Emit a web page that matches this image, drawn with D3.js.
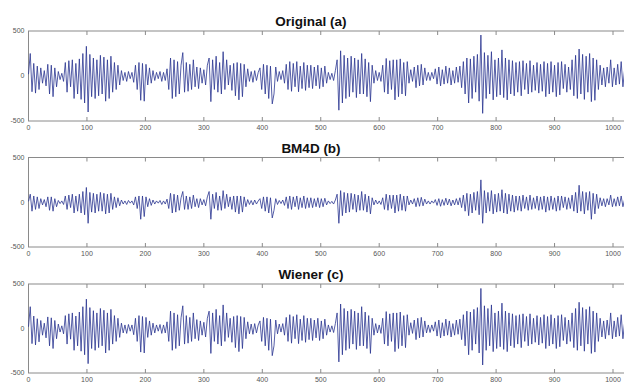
<!DOCTYPE html>
<html>
<head>
<meta charset="utf-8">
<script src="https://cdn.jsdelivr.net/npm/d3@7"></script>
<style>
  html, body { margin: 0; padding: 0; background: #fff; }
  svg { display: block; font-family: "Liberation Sans", Arial, sans-serif; }
</style>
</head>
<body>
<svg id="chart" width="624" height="385"></svg>
<script>
// sample spacing of the values below (one value every 3 samples)
const step = 3;

const panelTitles = ['Original (a)', 'BM4D (b)', 'Wiener (c)'];
const xTicks = [0, 100, 200, 300, 400, 500, 600, 700, 800, 900, 1000];
const yTicks = [-500, 0, 500];

// every 3rd sample
const original = [
  20, 250, -175, 140, -190, 110, -150, 90, -80, 60,
  -110, 130, -200, 120, -230, 90, -120, 50, -40, 30,
  -60, 150, -180, 170, -120, 180, -250, 140, -200, 190,
  -260, 250, -300, 330, -400, 240, -230, 200, -250, 180,
  -220, 230, -200, 210, -280, 180, -250, 220, -180, 150,
  -150, 120, -100, 60, -50, 40, -60, 50, -30, 40,
  -70, 120, -150, 150, -270, 140, -280, 130, -100, 90,
  -80, 60, -50, 40, -30, 50, -60, 40, -50, 80,
  -150, 200, -250, 180, -230, 160, -200, 120, 260, -180,
  150, -170, 130, -150, 180, -120, 100, -140, 90, -80,
  70, -100, 120, 200, -285, 180, -150, 220, -180, 150,
  -200, 270, -150, 180, -100, 120, -160, 140, -220, 150,
  -265, 140, -230, 130, -120, 80, -60, 50, -70, 60,
  -50, 40, 90, -150, 130, -200, 120, -250, 110, -310,
  -200, 100, -60, 50, -40, 60, -80, 130, -150, 160,
  -170, 140, -120, 160, -175, 110, -140, 150, -160, 120,
  -130, 120, -140, 100, -110, 120, -140, 90, -120, 110,
  -80, 40, -40, 30, -50, 60, 180, -380, 280, -300,
  230, -250, 200, -230, 220, -180, 200, -240, 180, -200,
  250, -200, 190, -230, 150, -285, 120, -80, 60, -50,
  40, -60, 120, -180, 195, -200, 170, -150, 180, -265,
  180, -230, 190, -200, 150, -220, 160, -80, 70, -60,
  100, -130, 120, -110, 130, -100, 90, -50, 40, -50,
  40, -30, 80, -90, 100, -110, 70, -90, 110, -80,
  90, -100, 60, -80, 100, -70, 110, -130, 160, -200,
  200, -300, 190, -250, 220, -180, 240, -280, 455, -415,
  260, -250, 230, -200, 270, -265, 180, -230, 200, -210,
  290, -240, 200, -265, 180, -200, 170, -220, 150, -180,
  160, -220, 170, -150, 140, -200, 170, -180, 120, -160,
  150, -190, 130, -170, 160, -230, 140, -200, 160, -180,
  120, -230, 150, -210, 160, -140, 130, -180, 100, -150,
  180, -220, 230, -250, 300, -200, 240, -260, 220, -180,
  250, -285, 200, -270, 180, -150, 120, -100, 90, -120,
  100, -80, 180, -120, 90, -100, 130, -90, 160, -120, 80, -60
];

const bm4d = [
  10, 90, -100, 70, -80, 60, -70, 40, -30, 30,
  -50, 60, -90, 60, -100, 40, -50, 20, -15, 15,
  -25, 70, -80, 80, -60, 90, -120, 70, -100, 90,
  -120, 120, -140, 165, -235, 110, -110, 100, -120, 90,
  -100, 110, -100, 100, -130, 90, -120, 100, -80, 60,
  -60, 50, -40, 25, -20, 15, -25, 20, -10, 15,
  -30, 60, -70, 70, -190, 70, -160, 60, -50, 40,
  -35, 25, -20, 15, -10, 20, -25, 15, -20, 35,
  -70, 100, -120, 90, -110, 80, -90, 50, 120, -80,
  70, -80, 60, -70, 80, -50, 40, -60, 40, -30,
  30, -40, 60, 120, -190, 90, -70, 110, -90, 70,
  -90, 130, -70, 90, -50, 60, -80, 70, -110, 70,
  -130, 70, -110, 60, -50, 30, -25, 20, -30, 25,
  -20, 15, 40, -70, 60, -100, 60, -120, 50, -175,
  -90, 40, -25, 20, -15, 25, -35, 60, -70, 70,
  -80, 60, -50, 70, -80, 50, -60, 70, -70, 50,
  -60, 50, -60, 40, -50, 50, -60, 40, -50, 45,
  -30, 15, -15, 10, -20, 25, 90, -235, 130, -150,
  110, -120, 100, -110, 100, -80, 90, -110, 80, -90,
  120, -90, 90, -110, 70, -130, 50, -30, 25, -20,
  15, -25, 50, -80, 90, -90, 80, -70, 80, -120,
  80, -100, 90, -90, 70, -100, 70, -30, 25, -20,
  40, -50, 50, -45, 55, -40, 35, -20, 15, -20,
  15, -10, 30, -35, 40, -45, 30, -35, 45, -30,
  35, -40, 25, -30, 40, -30, 50, -60, 80, -100,
  100, -150, 90, -120, 110, -90, 120, -140, 250, -235,
  130, -120, 110, -100, 130, -130, 90, -110, 100, -100,
  140, -120, 100, -130, 90, -100, 80, -110, 70, -90,
  70, -100, 80, -70, 60, -90, 80, -80, 50, -70,
  70, -90, 60, -80, 70, -110, 60, -90, 70, -80,
  50, -100, 70, -90, 70, -60, 60, -80, 50, -70,
  80, -100, 110, -120, 190, -100, 120, -130, 110, -90,
  120, -190, 100, -130, 90, -70, 50, -40, 40, -50,
  40, -30, 80, -50, 40, -45, 60, -40, 70, -50, 35, -25
];

const wiener = [
  20, 245, -170, 140, -185, 110, -150, 90, -75, 60,
  -105, 130, -195, 120, -225, 90, -115, 50, -40, 30,
  -60, 145, -175, 165, -120, 175, -245, 140, -195, 185,
  -255, 245, -295, 330, -395, 235, -225, 200, -245, 175,
  -215, 225, -195, 205, -275, 175, -245, 215, -175, 145,
  -145, 115, -100, 60, -50, 40, -55, 45, -30, 40,
  -70, 115, -145, 145, -265, 135, -275, 125, -100, 85,
  -75, 60, -50, 40, -30, 45, -55, 40, -50, 75,
  -145, 195, -245, 175, -225, 155, -195, 120, 255, -175,
  145, -165, 125, -145, 175, -115, 100, -135, 85, -75,
  70, -95, 115, 195, -280, 175, -145, 215, -175, 145,
  -195, 265, -145, 175, -100, 115, -155, 135, -215, 145,
  -260, 135, -225, 125, -115, 75, -60, 50, -65, 55,
  -50, 40, 85, -145, 125, -195, 115, -245, 105, -305,
  -195, 95, -60, 50, -40, 55, -75, 125, -145, 155,
  -165, 135, -115, 155, -170, 105, -135, 145, -155, 115,
  -125, 115, -135, 95, -105, 115, -135, 85, -115, 105,
  -75, 40, -40, 30, -45, 55, 175, -375, 275, -295,
  225, -245, 195, -225, 215, -175, 195, -235, 175, -195,
  245, -195, 185, -225, 145, -280, 115, -75, 55, -50,
  40, -55, 115, -175, 190, -195, 165, -145, 175, -260,
  175, -225, 185, -195, 145, -215, 155, -75, 65, -55,
  95, -125, 115, -105, 125, -95, 85, -50, 40, -45,
  40, -30, 75, -85, 95, -105, 65, -85, 105, -75,
  85, -95, 55, -75, 95, -65, 105, -125, 155, -195,
  195, -295, 185, -245, 215, -175, 235, -275, 450, -410,
  255, -245, 225, -195, 265, -260, 175, -225, 195, -205,
  285, -235, 195, -260, 175, -195, 165, -215, 145, -175,
  155, -215, 165, -145, 135, -195, 165, -175, 115, -155,
  145, -185, 125, -165, 155, -225, 135, -195, 155, -175,
  115, -225, 145, -205, 155, -135, 125, -175, 95, -145,
  175, -215, 225, -245, 295, -195, 235, -255, 215, -175,
  245, -280, 195, -265, 175, -145, 115, -95, 85, -115,
  95, -75, 175, -115, 85, -95, 125, -85, 155, -115, 75, -60
];

const series = [original, bm4d, wiener];

const svg = d3.select('#chart');

// panel boxes (top, bottom) in pixels
const panels = [
  { top: 31, bottom: 121 },
  { top: 157.5, bottom: 247 },
  { top: 284, bottom: 373 }
];

const x = d3.scaleLinear().domain([0, 1024]).range([28.5, 28.5 + 1024 * 0.5845]);

const axisColor = '#8a8a8a';
const labelColor = '#555';

panels.forEach((p, k) => {
  const y = d3.scaleLinear().domain([-500, 500]).range([p.bottom, p.top]);
  const g = svg.append('g').attr('class', `panel-${k}`);

  // box (right side falls outside the picture)
  g.append('rect')
    .attr('x', x(0))
    .attr('y', p.top)
    .attr('width', x(1024) - x(0))
    .attr('height', p.bottom - p.top)
    .attr('fill', 'none')
    .attr('stroke', axisColor)
    .attr('stroke-width', 1);

  // inward ticks top & bottom
  const tickLen = 4;
  g.selectAll('line.tb')
    .data(xTicks)
    .enter()
    .append('line')
    .attr('class', 'tb')
    .attr('x1', d => x(d)).attr('x2', d => x(d))
    .attr('y1', p.bottom).attr('y2', p.bottom - tickLen)
    .attr('stroke', axisColor);
  g.selectAll('line.tt')
    .data(xTicks)
    .enter()
    .append('line')
    .attr('class', 'tt')
    .attr('x1', d => x(d)).attr('x2', d => x(d))
    .attr('y1', p.top).attr('y2', p.top + tickLen)
    .attr('stroke', axisColor);

  // x tick labels
  g.selectAll('text.xl')
    .data(xTicks)
    .enter()
    .append('text')
    .attr('class', 'xl')
    .attr('x', d => x(d))
    .attr('y', p.bottom + 9)
    .attr('text-anchor', 'middle')
    .attr('font-size', 7)
    .attr('fill', labelColor)
    .text(d => d);

  // y tick labels
  g.selectAll('text.yl')
    .data(yTicks)
    .enter()
    .append('text')
    .attr('class', 'yl')
    .attr('x', x(0) - 4)
    .attr('y', d => y(d))
    .attr('dy', '0.35em')
    .attr('text-anchor', 'end')
    .attr('font-size', 7)
    .attr('fill', labelColor)
    .text(d => d);

  // signal
  const line = d3.line()
    .x((d, i) => x(i * step))
    .y(d => y(d));

  g.append('path')
    .datum(series[k])
    .attr('d', line)
    .attr('fill', 'none')
    .attr('stroke', '#2a3590')
    .attr('stroke-width', 0.8)
    .attr('stroke-linejoin', 'round');

  // title
  g.append('text')
    .attr('x', 311)
    .attr('y', p.top - 5)
    .attr('text-anchor', 'middle')
    .attr('font-size', 13.5)
    .attr('font-weight', 'bold')
    .attr('fill', '#111')
    .text(panelTitles[k]);
});
</script>
</body>
</html>
